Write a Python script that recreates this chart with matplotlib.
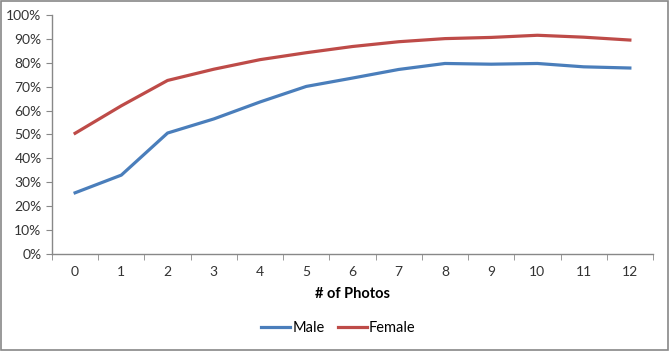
import numpy as np
import matplotlib
matplotlib.use('Agg')
from matplotlib import pyplot as plt
from matplotlib.ticker import PercentFormatter

photos = list(range(13))
male = [25.6, 33.0, 50.6, 56.5, 63.6, 70.1, 73.6, 77.2, 79.7, 79.4, 79.7, 78.3, 77.8]
female = [50.5, 62.0, 72.6, 77.3, 81.3, 84.2, 86.8, 88.8, 90.1, 90.6, 91.5, 90.7, 89.5]

plt.rcParams['font.family'] = ['Lato', 'DejaVu Sans']

fig = plt.figure(figsize=(6.7, 3.51), dpi=100)
ax = fig.add_axes([0.0776, 0.2764, 0.897, 0.681])

ax.plot(photos, male, color='#4A7EBB', lw=2.3, label='Male')
ax.plot(photos, female, color='#BE4B48', lw=2.3, label='Female')

ax.set_xlim(-0.5, 12.5)
ax.set_ylim(0, 100)
ax.set_yticks(np.arange(0, 101, 10))
ax.yaxis.set_major_formatter(PercentFormatter(decimals=0))
ax.set_xticks(photos)
ax.set_xticks(np.arange(-0.5, 12.6, 1), minor=True)
ax.tick_params(axis='x', which='major', length=0, pad=9, labelsize=10, colors='#333333')
ax.tick_params(axis='x', which='minor', length=4, color='#888888', direction='out')
ax.tick_params(axis='y', length=4, color='#888888', labelsize=10, labelcolor='#333333')

for s in ['top', 'right']:
    ax.spines[s].set_visible(False)
for s in ['left', 'bottom']:
    ax.spines[s].set_color('#888888')
    ax.spines[s].set_linewidth(1)

ax.set_xlabel('# of Photos', fontweight='bold', fontsize=10.5, labelpad=6)

fig.legend(loc='center', bbox_to_anchor=(0.505, 0.065), ncol=2, frameon=False,
           fontsize=10.5, handlelength=2.0, handletextpad=0.15, columnspacing=0.9)

fig.patches.append(plt.Rectangle((0.002, 0.003), 0.995, 0.994, transform=fig.transFigure,
                                 fill=False, edgecolor='#888888', lw=1.2))

fig.savefig('out.png', dpi=100)
